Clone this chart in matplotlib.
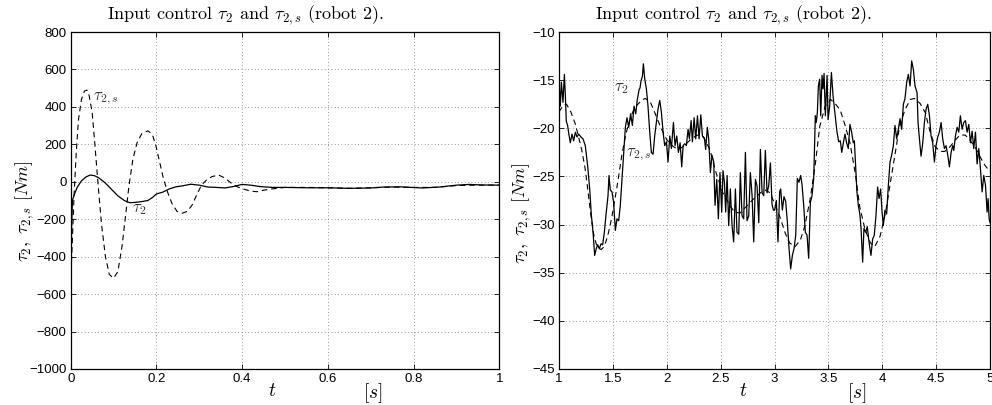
import matplotlib
matplotlib.use("Agg")
import matplotlib.pyplot as plt

plt.rcParams['mathtext.fontset'] = 'cm'
plt.rcParams['font.family'] = ['Liberation Sans', 'DejaVu Sans']

# ---------------- data: left panel (0..1 s) ----------------
t_left_tau = [0.000, 0.002, 0.004, 0.008, 0.015, 0.025, 0.035, 0.045, 0.055, 0.065,
              0.080, 0.095, 0.110, 0.125, 0.138, 0.150, 0.165, 0.180, 0.190, 0.200,
              0.215, 0.230, 0.245, 0.260, 0.280, 0.300, 0.320, 0.340, 0.360, 0.380,
              0.400, 0.420, 0.440, 0.470, 0.500, 0.550, 0.600, 0.650, 0.700, 0.730,
              0.770, 0.820, 0.860, 0.900, 0.930, 0.960, 1.000]
tau_left = [-520, -250, -100, -70, -30, 5, 25, 36, 33, 22,
            -5, -40, -75, -100, -112, -110, -106, -100, -85, -65,
            -55, -38, -27, -22, -13, -18, -28, -30, -33, -25,
            -14, -18, -25, -30, -30, -32, -32, -35, -33, -28,
            -27, -33, -28, -18, -14, -17, -18]

t_left_taus = [0.000, 0.004, 0.008, 0.013, 0.018, 0.025, 0.032, 0.038, 0.043, 0.050,
               0.056, 0.064, 0.072, 0.081, 0.090, 0.100, 0.110, 0.120, 0.128, 0.136,
               0.145, 0.155, 0.166, 0.180, 0.190, 0.198, 0.207, 0.216, 0.226, 0.236,
               0.248, 0.260, 0.272, 0.283, 0.294, 0.305, 0.318, 0.330, 0.345, 0.360,
               0.375, 0.390, 0.405, 0.420, 0.435, 0.450, 0.470, 0.500, 0.550, 0.600,
               0.650, 0.700, 0.750, 0.800, 0.850, 0.900, 0.950, 1.000]
taus_left = [-530, -300, -60, 160, 330, 440, 485, 490, 460, 370,
             210, -20, -230, -400, -495, -515, -480, -340, -180, -20,
             120, 210, 258, 272, 255, 200, 110, 20, -55, -115,
             -158, -168, -158, -125, -70, -18, 12, 28, 36, 20,
             -8, -28, -40, -50, -53, -45, -38, -30, -30, -32,
             -35, -32, -28, -30, -30, -20, -18, -17]

# ---------------- data: right panel (1..5 s) ----------------
t_right_tau = [1.000, 1.012, 1.022, 1.037, 1.050, 1.059, 1.068, 1.080, 1.093, 1.105,
               1.121, 1.136, 1.152, 1.167, 1.183, 1.204, 1.223, 1.244, 1.266, 1.285,
               1.300, 1.316, 1.331, 1.346, 1.359, 1.374, 1.390, 1.405, 1.421, 1.436,
               1.455, 1.464, 1.476, 1.492, 1.507, 1.523, 1.538, 1.554, 1.569, 1.585,
               1.600, 1.616, 1.631, 1.647, 1.665, 1.681, 1.696, 1.712, 1.727, 1.743,
               1.752, 1.761, 1.774, 1.783, 1.796, 1.811, 1.826, 1.842, 1.857, 1.873,
               1.888, 1.904, 1.919, 1.935, 1.950, 1.966, 1.981, 1.997, 2.012, 2.028,
               2.043, 2.062, 2.077, 2.093, 2.108, 2.124, 2.139, 2.152, 2.167, 2.182,
               2.198, 2.210, 2.226, 2.238, 2.254, 2.269, 2.285, 2.300, 2.316, 2.331,
               2.349, 2.361, 2.377, 2.389, 2.405, 2.420, 2.436, 2.448, 2.464, 2.479,
               2.494, 2.510, 2.522, 2.535, 2.547, 2.560, 2.575, 2.590, 2.606, 2.621,
               2.637, 2.652, 2.668, 2.683, 2.699, 2.714, 2.730, 2.745, 2.761, 2.776,
               2.792, 2.807, 2.823, 2.838, 2.854, 2.869, 2.885, 2.900, 2.915, 2.931,
               2.946, 2.962, 2.977, 2.990, 3.001, 3.017, 3.032, 3.048, 3.057, 3.073,
               3.088, 3.104, 3.119, 3.135, 3.150, 3.166, 3.181, 3.197, 3.212, 3.227,
               3.243, 3.255, 3.271, 3.286, 3.302, 3.317, 3.333, 3.348, 3.364, 3.379,
               3.388, 3.398, 3.407, 3.419, 3.429, 3.441, 3.450, 3.460, 3.472, 3.488,
               3.497, 3.512, 3.528, 3.543, 3.556, 3.568, 3.580, 3.596, 3.611, 3.624,
               3.639, 3.654, 3.669, 3.685, 3.700, 3.716, 3.731, 3.741, 3.753, 3.765,
               3.778, 3.793, 3.803, 3.818, 3.830, 3.846, 3.861, 3.877, 3.895, 3.911,
               3.926, 3.942, 3.957, 3.970, 3.985, 3.998, 4.010, 4.025, 4.041, 4.056,
               4.072, 4.087, 4.103, 4.118, 4.134, 4.149, 4.165, 4.180, 4.196, 4.211,
               4.227, 4.242, 4.258, 4.273, 4.289, 4.304, 4.315, 4.323, 4.332, 4.345,
               4.360, 4.376, 4.391, 4.407, 4.422, 4.438, 4.453, 4.468, 4.484, 4.499,
               4.515, 4.530, 4.546, 4.561, 4.577, 4.592, 4.608, 4.623, 4.639, 4.654,
               4.664, 4.679, 4.695, 4.710, 4.725, 4.741, 4.756, 4.772, 4.787, 4.803,
               4.818, 4.834, 4.849, 4.865, 4.880, 4.896, 4.911, 4.927, 4.942, 4.958,
               4.973, 4.982, 4.992, 5.000]
tau_right = [-15.1, -17.7, -15.2, -17.3, -14.4, -16.6, -19.3, -19.7, -20.7, -21.5,
             -20.6, -21.3, -20.4, -20.9, -20.6, -20.9, -21.1, -21.8, -23.9, -26.3,
             -29.0, -30.8, -33.2, -32.5, -32.1, -32.5, -32.0, -32.1, -30.8, -29.0,
             -27.0, -24.9, -26.4, -26.6, -27.7, -30.6, -29.4, -29.6, -28.0, -25.3,
             -22.7, -19.9, -18.9, -19.9, -18.5, -19.7, -17.7, -18.5, -17.0, -16.0,
             -15.8, -15.1, -14.6, -13.3, -14.9, -15.9, -17.7, -20.4, -22.5, -22.7,
             -20.8, -19.4, -18.0, -17.1, -18.3, -20.4, -21.8, -21.4, -23.5, -20.8,
             -22.1, -19.4, -21.8, -20.8, -22.5, -21.5, -24.0, -21.8, -21.6, -21.8,
             -20.1, -21.1, -19.2, -21.4, -18.9, -21.1, -18.7, -21.1, -18.6, -20.8,
             -21.0, -22.2, -19.9, -21.1, -24.6, -22.8, -23.5, -28.0, -25.3, -29.4,
             -24.6, -28.7, -24.4, -25.6, -28.7, -24.9, -30.1, -26.3, -30.1, -31.8,
             -26.3, -30.8, -31.0, -24.6, -29.1, -29.4, -22.5, -29.6, -29.1, -24.6,
             -27.0, -31.8, -25.3, -26.0, -29.8, -22.2, -26.7, -27.0, -22.3, -26.7,
             -26.0, -23.6, -27.9, -28.5, -28.5, -27.5, -31.8, -26.6, -26.3, -28.5,
             -27.1, -27.6, -29.7, -32.5, -34.6, -33.2, -32.5, -31.1, -25.2, -25.6,
             -24.9, -25.8, -28.0, -30.8, -31.1, -33.5, -27.7, -27.0, -25.2, -18.7,
             -19.4, -18.3, -15.6, -14.9, -18.7, -14.5, -15.9, -14.3, -18.7, -14.5,
             -19.1, -17.7, -14.2, -16.6, -17.9, -19.0, -20.4, -21.4, -21.3, -22.5,
             -21.5, -20.6, -21.5, -22.1, -19.6, -20.4, -21.5, -21.3, -23.9, -26.6,
             -28.0, -29.0, -30.4, -33.9, -30.4, -30.8, -30.2, -31.8, -33.2, -31.5,
             -31.1, -29.0, -26.1, -27.3, -26.3, -28.7, -30.1, -28.5, -28.9, -26.0,
             -23.5, -22.8, -21.8, -19.7, -21.1, -20.1, -19.0, -20.1, -17.5, -16.9,
             -15.2, -14.4, -15.6, -13.0, -13.9, -15.6, -16.0, -16.3, -19.4, -21.1,
             -22.9, -21.5, -19.4, -18.0, -17.5, -18.7, -20.8, -21.5, -23.5, -21.8,
             -20.9, -20.4, -19.4, -21.1, -22.1, -21.8, -22.8, -24.0, -22.5, -21.8,
             -22.3, -20.8, -19.9, -20.4, -18.7, -20.1, -19.4, -19.2, -20.4, -19.6,
             -21.5, -20.3, -22.1, -20.4, -23.7, -22.1, -24.2, -26.6, -24.9, -25.9,
             -28.7, -27.3, -29.4, -29.8]

t_right_taus = [1.00, 1.04, 1.07, 1.11, 1.15, 1.18, 1.21, 1.24, 1.26, 1.29,
                1.32, 1.345, 1.365, 1.39, 1.41, 1.435, 1.46, 1.48, 1.50, 1.535,
                1.56, 1.58, 1.61, 1.63, 1.67, 1.70, 1.74, 1.78, 1.80, 1.845,
                1.89, 1.94, 2.00, 2.06, 2.11, 2.15, 2.22, 2.28, 2.34, 2.40,
                2.46, 2.52, 2.59, 2.63, 2.68, 2.74, 2.80, 2.87, 2.91, 2.96,
                3.00, 3.05, 3.10, 3.14, 3.19, 3.24, 3.28, 3.33, 3.38, 3.42,
                3.47, 3.52, 3.56, 3.61, 3.65, 3.70, 3.75, 3.79, 3.84, 3.89,
                3.93, 3.98, 4.03, 4.07, 4.12, 4.16, 4.21, 4.26, 4.30, 4.35,
                4.40, 4.44, 4.49, 4.54, 4.58, 4.63, 4.68, 4.72, 4.77, 4.81,
                4.86, 4.91, 4.95, 5.00]
taus_right = [-18.3, -17.6, -17.5, -18.3, -19.5, -20.8, -22.2, -24.0, -25.7, -28.5,
              -30.9, -32.0, -32.4, -32.6, -32.4, -31.8, -30.8, -29.8, -28.6, -26.3,
              -24.5, -23.0, -21.2, -20.2, -18.7, -17.9, -17.4, -17.0, -16.9, -17.2,
              -18.4, -19.8, -21.2, -21.9, -22.2, -21.9, -21.2, -20.7, -20.9, -22.2,
              -24.7, -26.7, -28.1, -28.7, -28.8, -28.1, -27.4, -26.7, -26.4, -26.7,
              -27.8, -29.2, -30.9, -31.9, -32.3, -31.6, -30.2, -27.4, -23.6, -19.8,
              -17.7, -17.0, -17.4, -18.1, -19.5, -21.5, -24.7, -28.1, -30.5, -31.9,
              -32.3, -31.2, -28.8, -26.0, -22.6, -19.8, -18.1, -17.0, -16.9, -17.4,
              -18.4, -20.2, -21.9, -22.4, -22.4, -21.9, -21.2, -20.7, -20.7, -21.2,
              -21.9, -23.0, -23.8, -24.5]

# ticks
left_xticks = [0, 0.2, 0.4, 0.6, 0.8, 1.0]
left_xticklabels = ["0", "0.2", "0.4", "0.6", "0.8", "1"]
left_yticks = [800, 600, 400, 200, 0, -200, -400, -600, -800, -1000]
right_xticks = [1, 1.5, 2, 2.5, 3, 3.5, 4, 4.5, 5]
right_xticklabels = ["1", "1.5", "2", "2.5", "3", "3.5", "4", "4.5", "5"]
right_yticks = [-10, -15, -20, -25, -30, -35, -40, -45]

title_txt = r"Input control $\tau_2$ and $\tau_{2,s}$ (robot 2)."
ylabel_txt = r"$\tau_2,\ \tau_{2,s}\ [Nm]$"

fig = plt.figure(figsize=(9.92, 4.05), dpi=100)
axL = fig.add_axes([0.0713, 0.0889, 0.432, 0.832])
axR = fig.add_axes([0.5635, 0.0889, 0.4345, 0.832])

def style(ax, xticks, xlabels, yticks, xlim, ylim):
    ax.set_xlim(*xlim)
    ax.set_ylim(*ylim)
    ax.set_xticks(xticks)
    ax.set_xticklabels(xlabels)
    ax.set_yticks(yticks)
    ax.set_yticklabels([str(v).replace('-', '\u2212') for v in yticks])
    ax.tick_params(direction='in', top=True, right=True, length=3.5, width=0.6,
                   labelsize=9.5, pad=3, colors='black')
    ax.grid(True, linestyle=(0, (1, 3)), color='#777777', linewidth=0.6)
    for s in ax.spines.values():
        s.set_linewidth(0.9)
        s.set_color('black')

axL.plot(t_left_taus, taus_left, color='black', lw=0.8, dashes=(5, 3.5))
axL.plot(t_left_tau, tau_left, color='black', lw=0.9)
style(axL, left_xticks, left_xticklabels, left_yticks, (0, 1), (-1000, 800))

axR.plot(t_right_taus, taus_right, color='black', lw=0.8, dashes=(5, 3.5))
axR.plot(t_right_tau, tau_right, color='black', lw=0.9)
style(axR, right_xticks, right_xticklabels, right_yticks, (1, 5), (-45, -10))

lab = dict(fontsize=12, color='#333333', va='center', ha='left')
axL.text(0.052, 445, r"$\tau_{2,s}$", **lab)
axL.text(0.143, -150, r"$\tau_2$", **lab)
axR.text(1.515, -15.9, r"$\tau_2$", **lab)
axR.text(1.625, -22.8, r"$\tau_{2,s}$", **lab)

for ax, tx, xt, xs, yl_x, yl_y in [(axL, 0.408, 0.47, 0.706, -0.107, 0.469),
                                   (axR, 0.405, 0.428, 0.691, -0.086, 0.463)]:
    ax.text(tx, 1.05, title_txt, transform=ax.transAxes, ha='center', va='center',
            fontsize=13, family=['cmr10', 'DejaVu Serif'])
    ax.text(xt, -0.066, r"$t$", transform=ax.transAxes, ha='center', va='center',
            fontsize=14)
    ax.text(xs, -0.072, r"$[s]$", transform=ax.transAxes, ha='center', va='center',
            fontsize=14)
    ax.text(yl_x, yl_y, ylabel_txt, transform=ax.transAxes, ha='center', va='center',
            rotation=90, fontsize=13)

fig.savefig("out.png", dpi=100)
